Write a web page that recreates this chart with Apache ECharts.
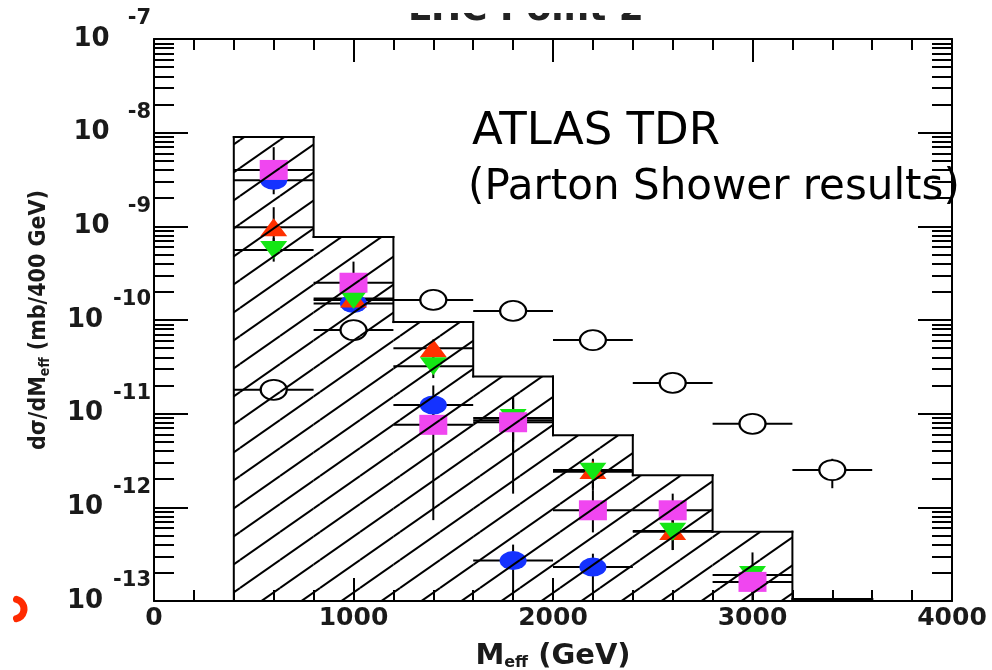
<!DOCTYPE html>
<html><head><meta charset="utf-8">
<script src="https://cdn.jsdelivr.net/npm/echarts@6/dist/echarts.min.js"></script>
<style>html,body{margin:0;padding:0;background:#fff}#chart{width:992px;height:670px}</style>
</head><body><div id="chart"></div>
<script>
// ---------- data ----------
const xTickValues = [0, 1000, 2000, 3000, 4000];
const yDecades = [-13, -12, -11, -10, -9, -8, -7];
const xErr = 200; // half bin width (GeV)

const binEdges   = [400, 800, 1200, 1600, 2000, 2400, 2800, 3200, 3600];
const histValues = [9.0e-9, 7.7e-10, 9.5e-11, 2.5e-11, 5.9e-12, 2.2e-12, 5.5e-13, 1.05e-13];

const openX  = [600, 1000, 1400, 1800, 2200, 2600, 3000, 3400];
const openY  = [1.8e-11, 7.8e-11, 1.64e-10, 1.25e-10, 6.1e-11, 2.13e-11, 7.8e-12, 2.5e-12];
const openLo = [1.6e-11, 6.3e-11, 1.5e-10, 1.0e-10, 5.5e-11, 1.9e-11, 7.0e-12, 1.6e-12];
const openHi = [2.0e-11, 9.6e-11, 1.8e-10, 1.4e-10, 6.8e-11, 2.4e-11, 8.7e-12, 3.3e-12];

const blueX  = [600, 1000, 1400, 1800, 2200];
const blueY  = [3.1e-9, 1.5e-10, 1.24e-11, 2.7e-13, 2.3e-13];
const blueLo = [2.2e-9, 1.2e-10, 8.0e-12, 1.2e-13, 1.3e-13];
const blueHi = [4.5e-9, 1.9e-10, 2.0e-11, 4.0e-13, 3.2e-13];

const redX  = [600, 1000, 1400, 1800, 2200, 2600];
const redY  = [9.8e-10, 1.7e-10, 5.0e-11, 8.5e-12, 2.5e-12, 5.6e-13];
const redLo = [6.0e-10, 1.3e-10, 3.5e-11, 4.0e-12, 1.6e-12, 3.5e-13];
const redHi = [1.6e-9, 2.2e-10, 6.2e-11, 1.5e-11, 3.3e-12, 8.0e-13];

const greenX  = [600, 1000, 1400, 1800, 2200, 2600, 3000];
const greenY  = [5.6e-10, 1.64e-10, 3.2e-11, 9.0e-12, 2.4e-12, 5.5e-13, 1.9e-13];
const greenLo = [4.2e-10, 1.2e-10, 2.4e-11, 5.0e-12, 1.5e-12, 3.5e-13, 1.2e-13];
const greenHi = [7.5e-10, 2.3e-10, 4.2e-11, 1.4e-11, 3.2e-12, 7.5e-13, 3.3e-13];

const magX  = [600, 1000, 1400, 1800, 2200, 2600, 3000];
const magY  = [4.0e-9, 2.5e-10, 7.6e-12, 8.1e-12, 9.3e-13, 9.3e-13, 1.6e-13];
const magLo = [2.5e-9, 1.6e-10, 7.3e-13, 1.4e-12, 5.4e-13, 7.0e-13, 1.0e-13];
const magHi = [7.0e-9, 4.2e-10, 1.3e-11, 1.5e-11, 1.5e-12, 1.4e-12, 2.2e-13];

// ---------- build ----------
const yMin = Math.pow(10, yDecades[0]);
const yMax = Math.pow(10, yDecades[yDecades.length - 1]);
const FONT = 'DejaVu Sans';
const TXT = '#1a1a1a';

// hatch pattern tile
const tile = document.createElement('canvas');
tile.width = 40; tile.height = 28;
(function () {
  const c = tile.getContext('2d');
  c.strokeStyle = '#000'; c.lineWidth = 2;
  for (const dx of [-40, 0, 40]) for (const dy of [-28, 0, 28]) {
    c.beginPath(); c.moveTo(dx, 28 + dy); c.lineTo(40 + dx, dy); c.stroke();
  }
})();
const hatch = { image: tile, repeat: 'repeat' };

const histData = histValues.map((v, i) => [binEdges[i], binEdges[i + 1], v, i ? histValues[i - 1] : yMin]);

function renderHist(params, api) {
  const i = params.dataIndex;
  const x0 = api.value(0), x1 = api.value(1), v = api.value(2), prev = api.value(3);
  const tl = api.coord([x0, v]);
  const br = api.coord([x1, yMin]);
  const pv = api.coord([x0, prev]);
  const ls = { stroke: '#000', lineWidth: 2, lineCap: 'square' };
  const children = [
    { type: 'rect', shape: { x: tl[0], y: tl[1], width: br[0] - tl[0], height: br[1] - tl[1] }, style: { fill: hatch } },
    { type: 'line', shape: { x1: pv[0], y1: pv[1], x2: tl[0], y2: tl[1] }, style: ls },
    { type: 'line', shape: { x1: tl[0], y1: tl[1], x2: br[0], y2: tl[1] }, style: ls }
  ];
  if (i === histValues.length - 1) {
    children.push({ type: 'line', shape: { x1: br[0], y1: tl[1], x2: br[0], y2: br[1] }, style: ls });
  }
  return { type: 'group', children };
}

function errData(xs, ys, lo, hi) { return xs.map((x, i) => [x, ys[i], lo[i], hi[i]]); }
const allErr = [].concat(
  errData(openX, openY, openLo, openHi),
  errData(blueX, blueY, blueLo, blueHi),
  errData(redX, redY, redLo, redHi),
  errData(greenX, greenY, greenLo, greenHi),
  errData(magX, magY, magLo, magHi)
);
function renderErr(params, api) {
  const x = api.value(0), y = api.value(1), lo = api.value(2), hi = api.value(3);
  const l = api.coord([x - xErr, y]), r = api.coord([x + xErr, y]);
  const t = api.coord([x, hi]), b = api.coord([x, lo]);
  const ls = { stroke: '#000', lineWidth: 2 };
  return { type: 'group', children: [
    { type: 'line', shape: { x1: l[0], y1: l[1], x2: r[0], y2: r[1] }, style: ls },
    { type: 'line', shape: { x1: t[0], y1: t[1], x2: b[0], y2: b[1] }, style: ls }
  ] };
}
function pts(xs, ys) { return xs.map((x, i) => [x, ys[i]]); }

const lineS = { color: '#000', width: 2 };
const baseX = {
  type: 'value', min: xTickValues[0], max: xTickValues[xTickValues.length - 1],
  interval: xTickValues[1] - xTickValues[0],
  axisLine: { show: true, onZero: false, lineStyle: lineS },
  axisTick: { show: true, inside: true, length: 23, lineStyle: lineS },
  minorTick: { show: true, splitNumber: 5, length: 11, lineStyle: lineS },
  splitLine: { show: false }, minorSplitLine: { show: false }
};
const baseY = {
  type: 'log', logBase: 10, min: yMin, max: yMax,
  axisLine: { show: true, onZero: false, lineStyle: lineS },
  axisTick: { show: true, inside: true, length: 34, lineStyle: lineS },
  minorTick: { show: true, splitNumber: 9, length: 20, lineStyle: lineS },
  splitLine: { show: false }, minorSplitLine: { show: false }
};

const expStyle = (pad) => ({ fontFamily: FONT, fontWeight: 'bold', fontSize: 21, color: TXT, padding: [0, 0, 40, pad] });

const chart = echarts.init(document.getElementById('chart'), null, { renderer: 'canvas' });
chart.setOption({
  animation: false,
  backgroundColor: '#fff',
  textStyle: { fontFamily: FONT },
  grid: { left: 154, right: 40, top: 39, bottom: 69, containLabel: false, outerBoundsMode: 'none' },
  xAxis: [
    Object.assign({}, baseX, {
      position: 'bottom',
      axisLabel: { margin: 5, color: TXT, fontFamily: FONT, fontWeight: 'bold', fontSize: 25,
        formatter: v => String(v) },
      name: '{m|M}{s|eff}{m| (GeV)}', nameLocation: 'middle', nameGap: 41,
      nameTextStyle: { rich: {
        m: { fontFamily: FONT, fontWeight: 'bold', fontSize: 29, color: TXT },
        s: { fontFamily: FONT, fontWeight: 'bold', fontSize: 16, color: TXT, padding: [13, 0, 0, 0] }
      } }
    }),
    Object.assign({}, baseX, { position: 'top', axisLabel: { show: false } })
  ],
  yAxis: [
    Object.assign({}, baseY, {
      position: 'left',
      axisLabel: {
        margin: 3,
        formatter: v => {
          const e = Math.round(Math.log10(v));
          return '{b|10}{' + (Math.abs(e) >= 10 ? 'e2' : 'e1') + '|' + e + '}';
        },
        rich: {
          b: { fontFamily: FONT, fontWeight: 'bold', fontSize: 26, color: TXT },
          e1: expStyle(18),
          e2: expStyle(10)
        }
      },
      name: '{m|dσ/dM}{s|eff}{m| (mb/400 GeV)}', nameLocation: 'middle', nameGap: 102,
      nameTextStyle: { rich: {
        m: { fontFamily: 'DejaVu Sans Condensed', fontWeight: 'bold', fontSize: 23, color: TXT },
        s: { fontFamily: 'DejaVu Sans Condensed', fontWeight: 'bold', fontSize: 14, color: TXT, padding: [11, 0, 0, 0] }
      } }
    }),
    Object.assign({}, baseY, { position: 'right', axisLabel: { show: false } })
  ],
  series: [
    { type: 'custom', name: 'errors', renderItem: renderErr, data: allErr, encode: { x: 0, y: [1, 2, 3] }, clip: true, z: 2, silent: true },
    { type: 'scatter', name: 'open', data: pts(openX, openY), symbol: 'circle', symbolSize: [26, 20],
      itemStyle: { color: '#fff', borderColor: '#000', borderWidth: 2, opacity: 1 }, z: 3, silent: true },
    { type: 'scatter', name: 'blue', data: pts(blueX, blueY), symbol: 'circle', symbolSize: [27, 19],
      itemStyle: { color: '#1432ff', opacity: 1 }, z: 3, silent: true },
    { type: 'scatter', name: 'red', data: pts(redX, redY), symbol: 'triangle', symbolSize: [27, 18],
      itemStyle: { color: '#ff3000', opacity: 1 }, z: 3, silent: true },
    { type: 'scatter', name: 'green', data: pts(greenX, greenY), symbol: 'triangle', symbolRotate: 180, symbolSize: [27, 18],
      itemStyle: { color: '#14e614', opacity: 1 }, z: 3, silent: true },
    { type: 'scatter', name: 'magenta', data: pts(magX, magY), symbol: 'rect', symbolSize: [28, 20],
      itemStyle: { color: '#f046f0', opacity: 1 }, z: 3, silent: true },
    { type: 'custom', name: 'hist', renderItem: renderHist, data: histData, encode: { x: [0, 1], y: [2, 3] }, clip: true, z: 5, silent: true }
  ],
  graphic: [
    { type: 'text', x: 408, y: 11, z: 10, style: { text: 'LHC Point 2', font: 'bold 36px "DejaVu Sans"', fill: '#222', verticalAlign: 'middle' } },
    { type: 'rect', shape: { x: 395, y: 0, width: 270, height: 13 }, style: { fill: '#fff' }, z: 11 },
    { type: 'text', x: 472, y: 132, z: 10, style: { text: 'ATLAS TDR', font: '45px "DejaVu Sans"', fill: '#000', verticalAlign: 'middle' } },
    { type: 'text', x: 468, y: 188, z: 10, style: { text: '(Parton Shower results)', font: '42px "DejaVu Sans"', fill: '#000', verticalAlign: 'middle' } },
    { type: 'arc', shape: { cx: 14, cy: 609, r: 10, startAngle: -Math.PI * 0.42, endAngle: Math.PI * 0.42 }, style: { stroke: '#ff2a00', lineWidth: 7, fill: null, lineCap: 'round' }, z: 10 }
  ]
});
</script>
</body></html>
